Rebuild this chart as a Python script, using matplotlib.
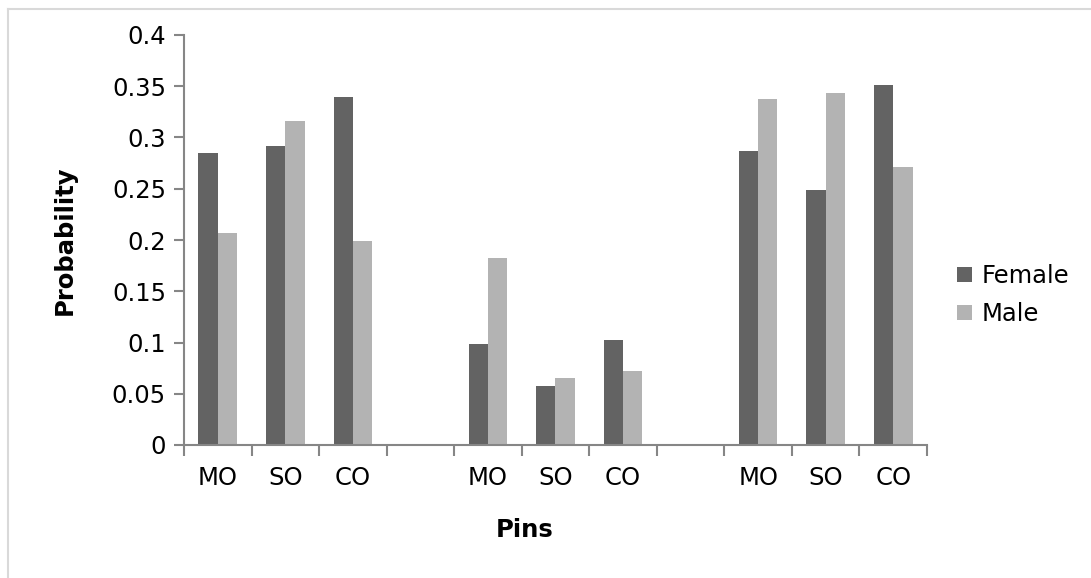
import numpy as np
import matplotlib
matplotlib.use('Agg')
import matplotlib.pyplot as plt
from matplotlib.lines import Line2D

categories = ['MO', 'SO', 'CO', '', 'MO', 'SO', 'CO', '', 'MO', 'SO', 'CO']
female = [0.285, 0.292, 0.340, np.nan, 0.0985, 0.058, 0.1025, np.nan, 0.287, 0.249, 0.3515]
male = [0.207, 0.316, 0.199, np.nan, 0.182, 0.0655, 0.072, np.nan, 0.338, 0.343, 0.271]

FEMALE_COLOR = '#636363'
MALE_COLOR = '#b3b3b3'
AXIS_COLOR = '#868686'
FS = 17.5

fig = plt.figure(figsize=(10.91, 5.78), dpi=100)
W, H = 1091, 578
ax = fig.add_axes([184 / W, 1 - 445 / H, (927 - 184) / W, (445 - 35) / H])

x = np.arange(len(categories))
bw = 0.286
ax.bar(x - bw / 2, female, bw, color=FEMALE_COLOR, label='Female')
ax.bar(x + bw / 2, male, bw, color=MALE_COLOR, label='Male')

ax.set_xlim(-0.5, len(categories) - 0.5)
ax.set_ylim(0, 0.4)
ax.set_yticks(np.arange(0, 0.401, 0.05))
ax.set_yticklabels(['0', '0.05', '0.1', '0.15', '0.2', '0.25', '0.3', '0.35', '0.4'])

ax.set_xticks(x)
ax.set_xticklabels(categories)
ax.set_xticks(np.arange(-0.5, len(categories), 1), minor=True)
ax.tick_params(axis='x', which='major', length=0, pad=15, labelsize=FS)
ax.tick_params(axis='x', which='minor', length=8, width=1.5, color=AXIS_COLOR)
ax.tick_params(axis='y', length=7, width=1.5, color=AXIS_COLOR, pad=6, labelsize=FS)

for side in ['top', 'right']:
    ax.spines[side].set_visible(False)
for side in ['left', 'bottom']:
    ax.spines[side].set_color(AXIS_COLOR)
    ax.spines[side].set_linewidth(1.5)

fig.text(65 / W, 1 - 240 / H, 'Probability', rotation=90, fontsize=FS,
         fontweight='bold', ha='center', va='center')
fig.text(525 / W, 1 - 530 / H, 'Pins', fontsize=FS, fontweight='bold',
         ha='center', va='center')

ax.legend(loc='upper left', bbox_to_anchor=(957 / W, 1 - 264 / H),
          bbox_transform=fig.transFigure, frameon=False, fontsize=FS,
          handlelength=0.6, handleheight=0.6, handletextpad=0.4,
          labelspacing=0.58, borderpad=0, borderaxespad=0)

# outer chart border (only top and left edges visible in the crop)
fig.add_artist(Line2D([8 / W, 8 / W], [0, 1 - 9 / H], transform=fig.transFigure,
                      color='#d9d9d9', lw=1.5))
fig.add_artist(Line2D([8 / W, 1], [1 - 9 / H, 1 - 9 / H], transform=fig.transFigure,
                      color='#d9d9d9', lw=1.5))

fig.savefig('out.png', dpi=100)
